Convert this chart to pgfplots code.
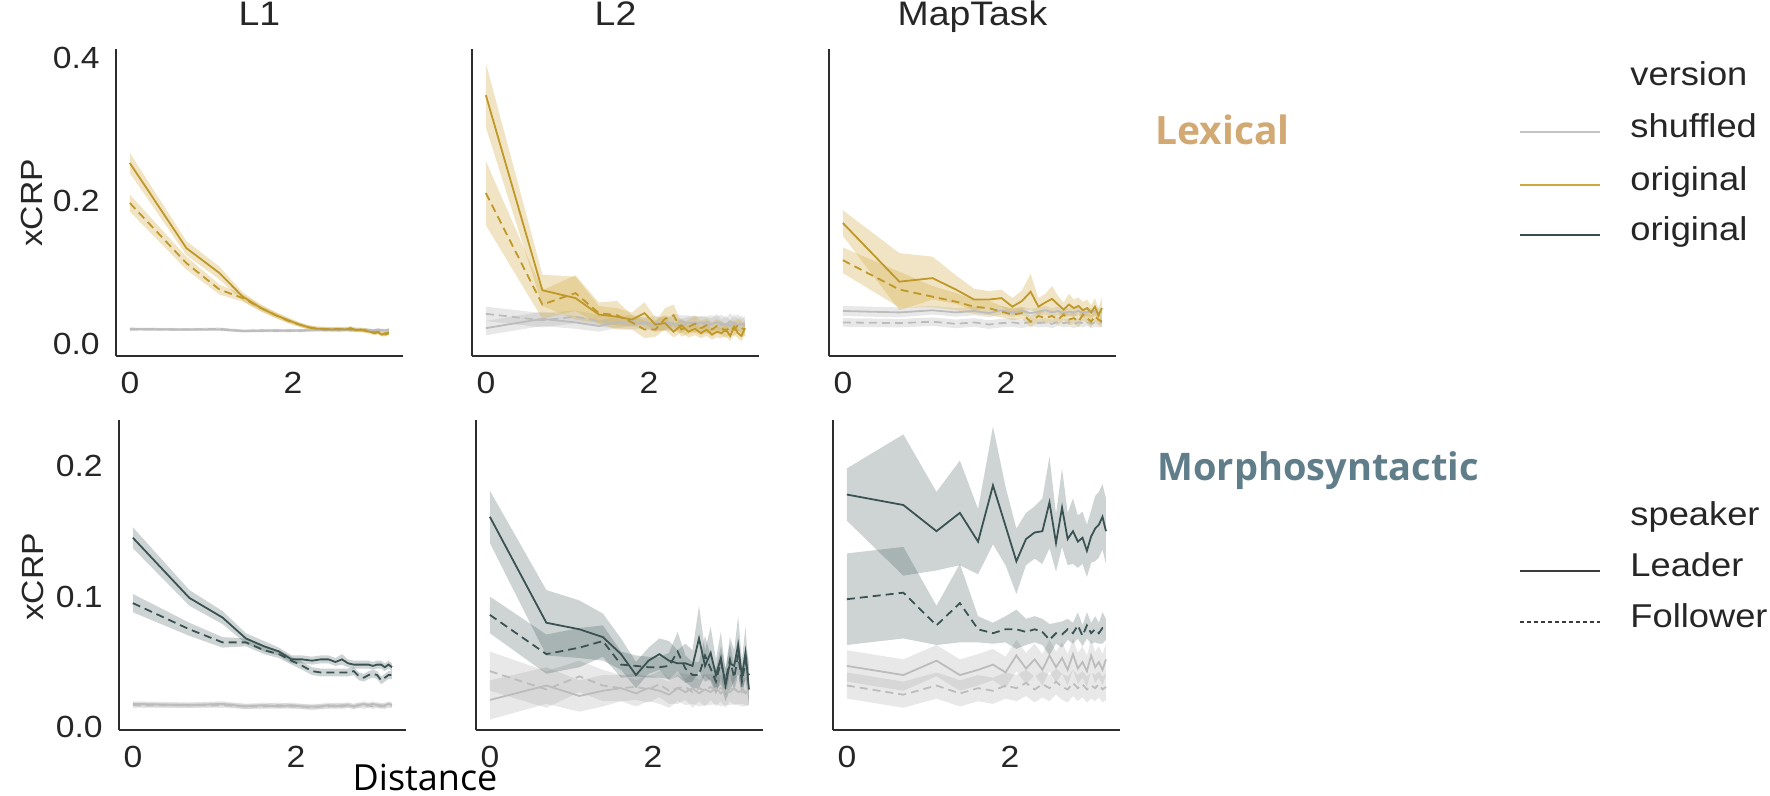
\documentclass[border=0pt]{standalone}
\usepackage{fontspec}
\setmainfont{Liberation Sans}[FakeStretch=1.1]
\newfontfamily\osans{Open Sans}
\usepackage{pgfplots}
\pgfplotsset{compat=1.18}
\usepgfplotslibrary{fillbetween}
\usepackage{pgfplotstable}

\definecolor{gold}{RGB}{190,152,40}
\definecolor{goldband}{RGB}{212,172,70}
\definecolor{slate}{RGB}{58,82,82}
\definecolor{shuf}{RGB}{188,188,188}
\definecolor{shufband}{RGB}{165,165,165}
\definecolor{axc}{RGB}{45,45,45}
\definecolor{txt}{RGB}{38,38,38}
\definecolor{lexc}{RGB}{210,168,115}
\definecolor{morc}{RGB}{96,125,138}
\newcommand{\tkf}{\fontsize{15.3pt}{18pt}\selectfont}
\newcommand{\ttf}{\fontsize{17pt}{20pt}\selectfont}
\newcommand{\lgf}{\fontsize{16.5pt}{19pt}\selectfont}

% columns: x, leader original (lm,le), follower original (fm,fe), leader shuffled (sm,se), follower shuffled (tm,te)
\pgfplotstableread{
x lm le fm fe sm se tm te
0 0.253 0.014 0.197 0.012 0.021 0.002 0.020 0.002
0.693 0.134 0.010 0.113 0.009 0.020 0.002 0.020 0.002
1.099 0.099 0.009 0.076 0.007 0.020 0.002 0.021 0.002
1.386 0.066 0.006 0.064 0.005 0.018 0.002 0.018 0.002
1.609 0.050 0.005 0.050 0.004 0.018 0.002 0.019 0.002
1.792 0.040 0.004 0.040 0.004 0.019 0.002 0.018 0.002
1.946 0.033 0.004 0.032 0.003 0.018 0.002 0.019 0.002
2.079 0.027 0.003 0.027 0.003 0.019 0.002 0.018 0.002
2.197 0.023 0.003 0.023 0.003 0.019 0.002 0.019 0.002
2.303 0.021 0.003 0.021 0.003 0.020 0.002 0.019 0.002
2.398 0.021 0.003 0.020 0.003 0.019 0.002 0.020 0.002
2.485 0.020 0.003 0.021 0.003 0.020 0.002 0.019 0.002
2.565 0.021 0.003 0.020 0.003 0.019 0.002 0.019 0.002
2.639 0.020 0.003 0.021 0.003 0.020 0.002 0.020 0.002
2.708 0.022 0.003 0.020 0.003 0.019 0.002 0.019 0.002
2.773 0.019 0.003 0.020 0.003 0.020 0.002 0.019 0.002
2.833 0.020 0.003 0.019 0.003 0.019 0.002 0.020 0.002
2.890 0.018 0.003 0.019 0.003 0.020 0.002 0.019 0.002
2.944 0.017 0.003 0.018 0.003 0.019 0.002 0.019 0.002
2.996 0.015 0.003 0.016 0.003 0.019 0.002 0.018 0.002
3.045 0.016 0.003 0.017 0.003 0.020 0.002 0.019 0.002
3.091 0.013 0.003 0.014 0.003 0.019 0.002 0.019 0.002
3.135 0.015 0.003 0.013 0.003 0.019 0.002 0.018 0.002
3.178 0.016 0.003 0.015 0.003 0.020 0.002 0.019 0.002
}\tA
\pgfplotstableread{
x lm le fm fe sm se tm te
0 0.348 0.045 0.211 0.045 0.022 0.010 0.042 0.010
0.693 0.075 0.022 0.055 0.020 0.035 0.010 0.033 0.010
1.099 0.064 0.030 0.071 0.025 0.030 0.009 0.038 0.009
1.386 0.041 0.012 0.043 0.015 0.025 0.008 0.032 0.008
1.609 0.038 0.012 0.040 0.020 0.030 0.008 0.030 0.008
1.792 0.034 0.010 0.030 0.010 0.028 0.008 0.033 0.008
1.946 0.043 0.015 0.020 0.012 0.030 0.008 0.028 0.008
2.079 0.027 0.010 0.020 0.010 0.025 0.008 0.030 0.010
2.197 0.029 0.010 0.035 0.015 0.030 0.010 0.026 0.008
2.303 0.017 0.008 0.040 0.015 0.028 0.008 0.030 0.012
2.398 0.026 0.010 0.020 0.010 0.025 0.010 0.032 0.008
2.485 0.017 0.008 0.024 0.010 0.030 0.008 0.028 0.012
2.565 0.021 0.009 0.028 0.012 0.027 0.012 0.030 0.008
2.639 0.015 0.007 0.022 0.010 0.030 0.008 0.027 0.012
2.708 0.020 0.009 0.026 0.010 0.025 0.012 0.031 0.008
2.773 0.013 0.007 0.020 0.010 0.028 0.008 0.028 0.012
2.833 0.017 0.008 0.025 0.010 0.030 0.012 0.030 0.008
2.890 0.015 0.007 0.022 0.010 0.026 0.008 0.029 0.012
2.944 0.020 0.009 0.018 0.010 0.028 0.012 0.027 0.008
2.996 0.011 0.007 0.024 0.010 0.025 0.008 0.031 0.012
3.045 0.024 0.010 0.020 0.010 0.030 0.012 0.028 0.008
3.091 0.015 0.007 0.026 0.010 0.026 0.008 0.030 0.012
3.135 0.011 0.007 0.022 0.010 0.028 0.012 0.027 0.008
3.178 0.022 0.009 0.020 0.010 0.025 0.008 0.029 0.010
}\tB
\pgfplotstableread{
x lm le fm fe sm se tm te
0 0.169 0.018 0.117 0.018 0.046 0.007 0.030 0.006
0.693 0.087 0.040 0.076 0.025 0.044 0.007 0.029 0.006
1.099 0.092 0.030 0.066 0.015 0.047 0.006 0.031 0.006
1.386 0.076 0.020 0.059 0.012 0.044 0.006 0.028 0.006
1.609 0.062 0.015 0.052 0.010 0.046 0.006 0.030 0.006
1.792 0.062 0.012 0.050 0.010 0.043 0.006 0.027 0.006
1.946 0.064 0.012 0.045 0.008 0.047 0.006 0.029 0.006
2.079 0.052 0.012 0.041 0.008 0.044 0.006 0.030 0.006
2.197 0.060 0.015 0.043 0.008 0.046 0.006 0.028 0.006
2.303 0.073 0.025 0.031 0.008 0.043 0.006 0.031 0.006
2.398 0.052 0.012 0.039 0.008 0.045 0.006 0.029 0.006
2.485 0.058 0.012 0.036 0.008 0.047 0.006 0.030 0.006
2.565 0.063 0.018 0.039 0.008 0.044 0.006 0.028 0.006
2.639 0.055 0.012 0.034 0.008 0.046 0.006 0.031 0.006
2.708 0.048 0.010 0.041 0.008 0.043 0.006 0.029 0.006
2.773 0.055 0.015 0.034 0.008 0.045 0.006 0.030 0.006
2.833 0.050 0.012 0.036 0.008 0.044 0.006 0.028 0.006
2.890 0.053 0.012 0.031 0.008 0.046 0.006 0.030 0.006
2.944 0.047 0.012 0.041 0.008 0.043 0.006 0.029 0.006
2.996 0.050 0.012 0.036 0.008 0.045 0.006 0.031 0.006
3.045 0.044 0.010 0.031 0.008 0.044 0.006 0.028 0.006
3.091 0.052 0.012 0.039 0.008 0.046 0.006 0.030 0.006
3.135 0.040 0.010 0.034 0.008 0.043 0.006 0.029 0.006
3.178 0.050 0.015 0.031 0.008 0.045 0.006 0.030 0.006
}\tC
\pgfplotstableread{
x lm le fm fe sm se tm te
0 0.145 0.008 0.095 0.007 0.018 0.002 0.017 0.002
0.693 0.099 0.006 0.075 0.005 0.017 0.002 0.017 0.002
1.099 0.084 0.005 0.065 0.004 0.018 0.002 0.017 0.002
1.386 0.068 0.004 0.065 0.003 0.016 0.002 0.016 0.002
1.609 0.062 0.004 0.059 0.003 0.017 0.002 0.016 0.002
1.792 0.058 0.003 0.056 0.003 0.016 0.002 0.017 0.002
1.946 0.052 0.003 0.051 0.003 0.017 0.002 0.016 0.002
2.079 0.052 0.003 0.047 0.003 0.016 0.002 0.016 0.002
2.197 0.051 0.003 0.043 0.003 0.016 0.002 0.015 0.002
2.303 0.052 0.003 0.042 0.003 0.016 0.002 0.016 0.002
2.398 0.052 0.003 0.042 0.003 0.017 0.002 0.016 0.002
2.485 0.050 0.003 0.042 0.003 0.016 0.002 0.017 0.002
2.565 0.052 0.004 0.042 0.003 0.017 0.002 0.016 0.002
2.639 0.049 0.003 0.042 0.003 0.017 0.002 0.017 0.002
2.708 0.048 0.003 0.043 0.003 0.016 0.002 0.016 0.002
2.773 0.048 0.003 0.039 0.003 0.017 0.002 0.017 0.002
2.833 0.048 0.003 0.038 0.003 0.018 0.002 0.016 0.002
2.890 0.048 0.003 0.040 0.003 0.017 0.002 0.017 0.002
2.944 0.047 0.003 0.041 0.003 0.018 0.002 0.016 0.002
2.996 0.048 0.003 0.040 0.003 0.017 0.002 0.017 0.002
3.045 0.048 0.003 0.036 0.003 0.016 0.002 0.017 0.002
3.091 0.046 0.003 0.038 0.003 0.017 0.002 0.016 0.002
3.135 0.048 0.003 0.040 0.003 0.018 0.002 0.017 0.002
3.178 0.046 0.003 0.040 0.003 0.017 0.002 0.017 0.002
}\tD
\pgfplotstableread{
x lm le fm fe sm se tm te
0 0.161 0.020 0.086 0.014 0.021 0.015 0.043 0.015
0.693 0.080 0.025 0.056 0.015 0.032 0.014 0.029 0.014
1.099 0.075 0.022 0.061 0.015 0.024 0.012 0.039 0.012
1.386 0.069 0.018 0.066 0.012 0.028 0.012 0.032 0.012
1.609 0.056 0.012 0.048 0.010 0.030 0.010 0.030 0.010
1.792 0.040 0.010 0.047 0.008 0.026 0.010 0.031 0.010
1.946 0.051 0.010 0.046 0.008 0.030 0.010 0.029 0.010
2.079 0.056 0.012 0.046 0.008 0.028 0.010 0.033 0.010
2.197 0.051 0.015 0.047 0.010 0.025 0.010 0.028 0.010
2.303 0.049 0.010 0.058 0.015 0.030 0.010 0.030 0.012
2.398 0.049 0.015 0.045 0.010 0.027 0.010 0.031 0.010
2.485 0.047 0.012 0.040 0.010 0.030 0.012 0.027 0.012
2.565 0.068 0.025 0.040 0.010 0.026 0.010 0.030 0.010
2.639 0.047 0.012 0.055 0.015 0.029 0.012 0.028 0.012
2.708 0.057 0.020 0.045 0.010 0.027 0.010 0.031 0.010
2.773 0.040 0.012 0.035 0.010 0.030 0.012 0.028 0.012
2.833 0.053 0.020 0.050 0.012 0.026 0.010 0.030 0.010
2.890 0.032 0.012 0.035 0.010 0.029 0.012 0.027 0.012
2.944 0.049 0.020 0.052 0.012 0.027 0.010 0.030 0.010
2.996 0.047 0.012 0.038 0.010 0.030 0.012 0.029 0.012
3.045 0.063 0.022 0.055 0.015 0.027 0.010 0.028 0.010
3.091 0.039 0.012 0.035 0.010 0.028 0.012 0.030 0.012
3.135 0.057 0.020 0.050 0.012 0.026 0.010 0.027 0.010
3.178 0.029 0.012 0.040 0.010 0.029 0.012 0.029 0.012
}\tE
\pgfplotstableread{
x lm le fm fe sm se tm te
0 0.178 0.020 0.098 0.035 0.047 0.012 0.032 0.010
0.693 0.170 0.054 0.103 0.035 0.040 0.012 0.025 0.010
1.099 0.150 0.030 0.078 0.015 0.051 0.012 0.032 0.010
1.386 0.164 0.040 0.095 0.030 0.040 0.012 0.026 0.010
1.609 0.142 0.025 0.075 0.010 0.044 0.012 0.030 0.010
1.792 0.185 0.045 0.072 0.008 0.048 0.012 0.028 0.010
1.946 0.154 0.030 0.075 0.010 0.042 0.012 0.032 0.010
2.079 0.127 0.025 0.075 0.015 0.055 0.012 0.030 0.010
2.197 0.144 0.020 0.073 0.010 0.045 0.012 0.034 0.010
2.303 0.149 0.020 0.075 0.010 0.052 0.012 0.029 0.010
2.398 0.150 0.025 0.073 0.010 0.044 0.012 0.033 0.010
2.485 0.172 0.035 0.067 0.012 0.055 0.012 0.030 0.010
2.565 0.141 0.022 0.072 0.008 0.046 0.012 0.035 0.010
2.639 0.168 0.030 0.071 0.010 0.053 0.012 0.031 0.010
2.708 0.144 0.020 0.075 0.008 0.044 0.012 0.029 0.010
2.773 0.150 0.025 0.072 0.008 0.056 0.012 0.034 0.010
2.833 0.142 0.020 0.078 0.010 0.045 0.012 0.030 0.010
2.890 0.145 0.020 0.070 0.008 0.050 0.012 0.033 0.010
2.944 0.135 0.020 0.078 0.010 0.043 0.012 0.029 0.010
2.996 0.146 0.020 0.072 0.008 0.055 0.012 0.032 0.010
3.045 0.152 0.025 0.075 0.010 0.046 0.012 0.030 0.010
3.091 0.155 0.025 0.072 0.008 0.050 0.012 0.033 0.010
3.135 0.161 0.025 0.076 0.012 0.044 0.012 0.029 0.010
3.178 0.150 0.025 0.075 0.008 0.052 0.012 0.031 0.010
}\tF

\newcommand{\band}[6]{%
  \addplot[draw=none, name path=#5u, forget plot] table[x=x, y expr=\thisrow{#2}+\thisrow{#3}] {#1};
  \addplot[draw=none, name path=#5d, forget plot] table[x=x, y expr=\thisrow{#2}-\thisrow{#3}] {#1};
  \addplot[fill=#4, fill opacity=#6, draw=none, forget plot] fill between[of=#5u and #5d];
}
\newcommand{\mline}[4]{\addplot[#3, line width=0.9pt, #4] table[x=x, y=#2] {#1};}
\newcommand{\panelplots}[4]{%
  \band{#1}{sm}{se}{shufband}{a}{0.25}
  \band{#1}{tm}{te}{shufband}{b}{0.25}
  \band{#1}{lm}{le}{#3}{c}{#4}
  \band{#1}{fm}{fe}{#3}{d}{#4}
  \mline{#1}{sm}{shuf}{solid}
  \mline{#1}{tm}{shuf}{dash pattern=on 4pt off 2.5pt}
  \mline{#1}{lm}{#2}{solid}
  \mline{#1}{fm}{#2}{dash pattern=on 4pt off 2.5pt}
}

\pgfplotsset{
  panel/.style={scale only axis, width=143.5pt, xmin=-0.17, xmax=3.35,
    axis x line*=bottom, axis y line*=left,
    axis line style={axc, line width=0.8pt},
    major tick length=0pt,
    xtick={0,2}, xticklabels={0,2},
    tick label style={font=\tkf, text=txt},
    xticklabel style={inner sep=0pt, anchor=north, yshift=-8pt},
    yticklabel style={inner sep=0pt, anchor=east, xshift=-8pt},
    title style={font=\ttf, text=txt, at={(0.5,1)}, anchor=base, yshift=5.5pt, inner sep=0pt},
    /pgf/number format/assume math mode=true},
  toprow/.style={height=153.5pt, ymin=-0.017, ymax=0.4126, ytick={0,0.2,0.4}},
  botrow/.style={height=155pt, ymin=-0.002, ymax=0.235, ytick={0,0.1,0.2}},
}

\begin{document}
\begin{tikzpicture}

\begin{axis}[panel, toprow, at={(58pt,-178pt)}, anchor=south west, title={L1}, yticklabels={0.0,0.2,0.4}]
  \panelplots{\tA}{gold}{goldband}{0.32}
\end{axis}
\begin{axis}[panel, toprow, at={(236pt,-178pt)}, anchor=south west, title={L2}, yticklabels={,,}]
  \panelplots{\tB}{gold}{goldband}{0.32}
\end{axis}
\begin{axis}[panel, toprow, at={(414.5pt,-178pt)}, anchor=south west, title={MapTask}, yticklabels={,,}]
  \panelplots{\tC}{gold}{goldband}{0.32}
\end{axis}

\begin{axis}[panel, botrow, at={(59.5pt,-365pt)}, anchor=south west, yticklabels={0.0,0.1,0.2}]
  \panelplots{\tD}{slate}{slate}{0.25}
\end{axis}
\begin{axis}[panel, botrow, at={(238pt,-365pt)}, anchor=south west, yticklabels={,,}]
  \panelplots{\tE}{slate}{slate}{0.25}
\end{axis}
\begin{axis}[panel, botrow, at={(416.5pt,-365pt)}, anchor=south west, yticklabels={,,}]
  \panelplots{\tF}{slate}{slate}{0.25}
\end{axis}

% axis labels
\node[rotate=90, font=\tkf, text=txt, inner sep=0pt] at (16pt,-101.5pt) {xCRP};
\node[rotate=90, font=\tkf, text=txt, inner sep=0pt] at (16.5pt,-288.5pt) {xCRP};
\node[anchor=base, font=\osans\fontsize{18pt}{20pt}\selectfont, text=black, inner sep=0pt] at (212.5pt,-395pt) {Distance};

% row labels
\node[anchor=base west, font=\osans\bfseries\fontsize{19.5pt}{22pt}\selectfont, text=lexc, inner sep=0pt] at (577.5pt,-72.5pt) {Lexical};
\node[anchor=base west, font=\osans\bfseries\fontsize{19pt}{22pt}\selectfont, text=morc, inner sep=0pt] at (578.5pt,-240pt) {Morphosyntactic};

% legends
\node[anchor=mid west, font=\lgf, text=txt, inner sep=0pt] at (815pt,-40pt) {version};
\draw[color={rgb,255:red,195;green,195;blue,195}, line width=0.9pt] (760pt,-66pt) -- (800pt,-66pt);
\node[anchor=mid west, font=\lgf, text=txt, inner sep=0pt] at (815pt,-66pt) {shuffled};
\draw[color={rgb,255:red,205;green,170;blue,60}, line width=0.9pt] (760pt,-92.5pt) -- (800pt,-92.5pt);
\node[anchor=mid west, font=\lgf, text=txt, inner sep=0pt] at (815pt,-92.5pt) {original};
\draw[color={rgb,255:red,55;green,75;blue,80}, line width=0.9pt] (760pt,-117.5pt) -- (800pt,-117.5pt);
\node[anchor=mid west, font=\lgf, text=txt, inner sep=0pt] at (815pt,-117.5pt) {original};

\node[anchor=mid west, font=\lgf, text=txt, inner sep=0pt] at (815pt,-260pt) {speaker};
\draw[color={rgb,255:red,60;green,60;blue,60}, line width=0.9pt] (760pt,-285.5pt) -- (800pt,-285.5pt);
\node[anchor=mid west, font=\lgf, text=txt, inner sep=0pt] at (815pt,-285.5pt) {Leader};
\draw[color={rgb,255:red,60;green,60;blue,60}, line width=0.7pt, dash pattern=on 2pt off 1.5pt] (760pt,-311pt) -- (800pt,-311pt);
\node[anchor=mid west, font=\lgf, text=txt, inner sep=0pt] at (815pt,-311pt) {Follower};

\pgfresetboundingbox
\path[use as bounding box] (0,0) rectangle (885pt,-398pt);
\end{tikzpicture}
\end{document}
